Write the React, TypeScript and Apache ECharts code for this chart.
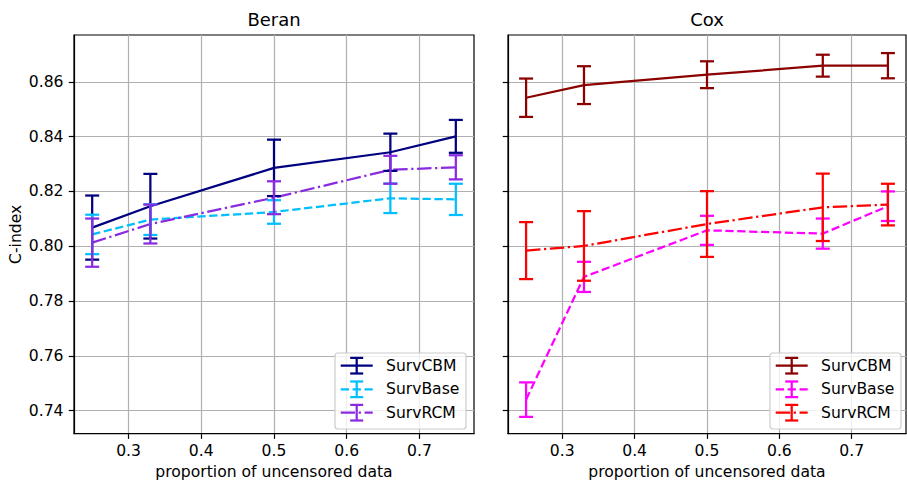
import React, { useEffect, useRef } from "react";
import * as echarts from "echarts";

const xs = [0.25, 0.33, 0.5, 0.66, 0.75];
const yTicks = [0.74, 0.76, 0.78, 0.8, 0.82, 0.84, 0.86];
const xTicks = [0.3, 0.4, 0.5, 0.6, 0.7];
const panelTitles = ["Beran", "Cox"];
const seriesNames = ["SurvCBM", "SurvBase", "SurvRCM"];

const beranCBM = [0.8068, 0.8146, 0.8286, 0.8343, 0.8401];
const beranCBMErr = [0.0117, 0.0118, 0.0103, 0.0068, 0.006];
const beranBase = [0.8043, 0.8097, 0.8125, 0.8175, 0.8171];
const beranBaseErr = [0.0072, 0.0056, 0.0043, 0.0054, 0.0057];
const beranRCM = [0.8013, 0.8081, 0.8177, 0.8279, 0.8288];
const beranRCMErr = [0.0088, 0.0071, 0.006, 0.0051, 0.0044];

const coxCBM = [0.8542, 0.8588, 0.8626, 0.8659, 0.8659];
const coxCBMErr = [0.007, 0.0069, 0.0049, 0.004, 0.0046];
const coxBase = [0.744, 0.7888, 0.8058, 0.8046, 0.8146];
const coxBaseErr = [0.0063, 0.0055, 0.0053, 0.0055, 0.0054];
const coxRCM = [0.7984, 0.8001, 0.8081, 0.8142, 0.8152];
const coxRCMErr = [0.0104, 0.0127, 0.012, 0.0123, 0.0076];

const FONT = "DejaVu Sans";
const FS = 15.6;
const LW = 2.25;
const DASHED = [8.3, 3.6];
const DASHDOT = [14.4, 3.6, 2.25, 3.6];
const CAP = 7;

type Style = { color: string; dash: number[] | "solid" };

const beranStyles: Style[] = [
  { color: "#000080", dash: "solid" },
  { color: "#00bfff", dash: DASHED },
  { color: "#8a2be2", dash: DASHDOT },
];
const coxStyles: Style[] = [
  { color: "#8b0000", dash: "solid" },
  { color: "#ff00ff", dash: DASHED },
  { color: "#ff0000", dash: DASHDOT },
];

function lineSeries(name: string, idx: number, means: number[], st: Style) {
  return {
    name,
    type: "line",
    xAxisIndex: idx,
    yAxisIndex: idx,
    data: xs.map((x, i) => [x, means[i]]),
    symbol: "none",
    showSymbol: false,
    silent: true,
    z: 3,
    lineStyle: { color: st.color, width: LW, type: st.dash },
  };
}

function errSeries(name: string, idx: number, means: number[], errs: number[], st: Style) {
  return {
    name: name + " err",
    type: "custom",
    xAxisIndex: idx,
    yAxisIndex: idx,
    silent: true,
    z: 4,
    data: xs.map((x, i) => [x, means[i] - errs[i], means[i] + errs[i]]),
    encode: { x: 0, y: [1, 2] },
    renderItem: (params: any, api: any) => {
      const lo = api.coord([api.value(0), api.value(1)]);
      const hi = api.coord([api.value(0), api.value(2)]);
      const style = { stroke: st.color, lineWidth: LW, fill: "none" };
      return {
        type: "group",
        children: [
          { type: "line", shape: { x1: lo[0], y1: lo[1], x2: hi[0], y2: hi[1] }, style },
          { type: "line", shape: { x1: lo[0] - CAP, y1: lo[1], x2: lo[0] + CAP, y2: lo[1] }, style },
          { type: "line", shape: { x1: hi[0] - CAP, y1: hi[1], x2: hi[0] + CAP, y2: hi[1] }, style },
        ],
      };
    },
  };
}

function legendGraphics(bx: number, by: number, styles: Style[]) {
  const els: any[] = [];
  els.push({
    type: "rect",
    z: 100,
    shape: { x: bx, y: by, width: 131, height: 76, r: 3 },
    style: { fill: "rgba(255,255,255,0.8)", stroke: "#cccccc", lineWidth: 1.2 },
  });
  const rows = [12.7, 36.3, 59.7];
  styles.forEach((st, i) => {
    const cy = by + rows[i];
    const x1 = bx + 5.7;
    const x2 = bx + 37.7;
    const cx = (x1 + x2) / 2;
    const s: any = { stroke: st.color, lineWidth: LW, fill: "none" };
    els.push({
      type: "line",
      z: 101,
      shape: { x1, y1: cy, x2, y2: cy },
      style: { ...s, lineDash: st.dash === "solid" ? null : st.dash },
    });
    els.push({ type: "line", z: 101, shape: { x1: cx, y1: cy - 7.8, x2: cx, y2: cy + 7.8 }, style: s });
    els.push({ type: "line", z: 101, shape: { x1: cx - 6.5, y1: cy - 7.8, x2: cx + 6.5, y2: cy - 7.8 }, style: s });
    els.push({ type: "line", z: 101, shape: { x1: cx - 6.5, y1: cy + 7.8, x2: cx + 6.5, y2: cy + 7.8 }, style: s });
    els.push({
      type: "text",
      z: 101,
      x: bx + 51,
      y: cy,
      style: {
        text: seriesNames[i],
        fontFamily: FONT,
        fontSize: FS,
        fill: "#000",
        verticalAlign: "middle",
        align: "left",
      },
    });
  });
  return els;
}

function xAxisCfg(idx: number) {
  return {
    type: "value",
    gridIndex: idx,
    min: 0.225,
    max: 0.775,
    name: "proportion of uncensored data",
    nameLocation: "middle",
    nameGap: 29,
    nameTextStyle: { fontFamily: FONT, fontSize: FS, color: "#000" },
    axisLine: { show: true, lineStyle: { color: "#000", width: 1.2 } },
    axisTick: {
      show: true,
      length: 5.25,
      customValues: xTicks,
      lineStyle: { color: "#000", width: 1.2 },
    },
    axisLabel: {
      show: true,
      margin: 9.5,
      customValues: xTicks,
      formatter: (v: number) => v.toFixed(1),
      fontFamily: FONT,
      fontSize: FS,
      color: "#000",
    },
    splitLine: { show: true, lineStyle: { color: "#b0b0b0", width: 1.2 } },
  };
}

function yAxisCfg(idx: number) {
  return {
    type: "value",
    gridIndex: idx,
    min: 0.7316,
    max: 0.8771,
    name: idx === 0 ? "C-index" : "",
    nameLocation: "middle",
    nameGap: 50,
    nameTextStyle: { fontFamily: FONT, fontSize: FS, color: "#000" },
    axisLine: { show: true, lineStyle: { color: "#000", width: 1.2 } },
    axisTick: {
      show: true,
      length: 5.25,
      customValues: yTicks,
      lineStyle: { color: "#000", width: 1.2 },
    },
    axisLabel: {
      show: idx === 0,
      margin: 10.5,
      customValues: yTicks,
      formatter: (v: number) => v.toFixed(2),
      fontFamily: FONT,
      fontSize: FS,
      color: "#000",
    },
    splitLine: { show: true, lineStyle: { color: "#b0b0b0", width: 1.2 } },
  };
}

export default function App() {
  const ref = useRef<HTMLDivElement>(null);
  useEffect(() => {
    if (!ref.current) return;
    const chart = echarts.init(ref.current, undefined, { renderer: "svg" });
    const beran = [
      [beranCBM, beranCBMErr],
      [beranBase, beranBaseErr],
      [beranRCM, beranRCMErr],
    ];
    const cox = [
      [coxCBM, coxCBMErr],
      [coxBase, coxBaseErr],
      [coxRCM, coxRCMErr],
    ];
    const series: any[] = [];
    beran.forEach(([m, e], i) => {
      series.push(lineSeries("Beran " + seriesNames[i], 0, m, beranStyles[i]));
      series.push(errSeries("Beran " + seriesNames[i], 0, m, e, beranStyles[i]));
    });
    cox.forEach(([m, e], i) => {
      series.push(lineSeries("Cox " + seriesNames[i], 1, m, coxStyles[i]));
      series.push(errSeries("Cox " + seriesNames[i], 1, m, e, coxStyles[i]));
    });
    chart.setOption({
      animation: false,
      backgroundColor: "#fff",
      title: [
        {
          text: panelTitles[0],
          left: 274,
          top: 10,
          padding: 0,
          textAlign: "center",
          textStyle: { fontFamily: FONT, fontSize: 18, fontWeight: "normal", color: "#000" },
        },
        {
          text: panelTitles[1],
          left: 707,
          top: 10,
          padding: 0,
          textAlign: "center",
          textStyle: { fontFamily: FONT, fontSize: 18, fontWeight: "normal", color: "#000" },
        },
      ],
      grid: [
        { left: 74, top: 35, width: 400, height: 400, show: true, borderColor: "#000", borderWidth: 1.2, backgroundColor: "transparent" },
        { left: 508, top: 35, width: 398, height: 400, show: true, borderColor: "#000", borderWidth: 1.2, backgroundColor: "transparent" },
      ],
      xAxis: [xAxisCfg(0), xAxisCfg(1)],
      yAxis: [yAxisCfg(0), yAxisCfg(1)],
      series,
      graphic: [...legendGraphics(335, 353, beranStyles), ...legendGraphics(770, 353, coxStyles)],
    });
    return () => chart.dispose();
  }, []);
  return (
    <div
      ref={ref}
      style={{ position: "fixed", left: 0, top: 0, width: 907, height: 485 }}
    />
  );
}
